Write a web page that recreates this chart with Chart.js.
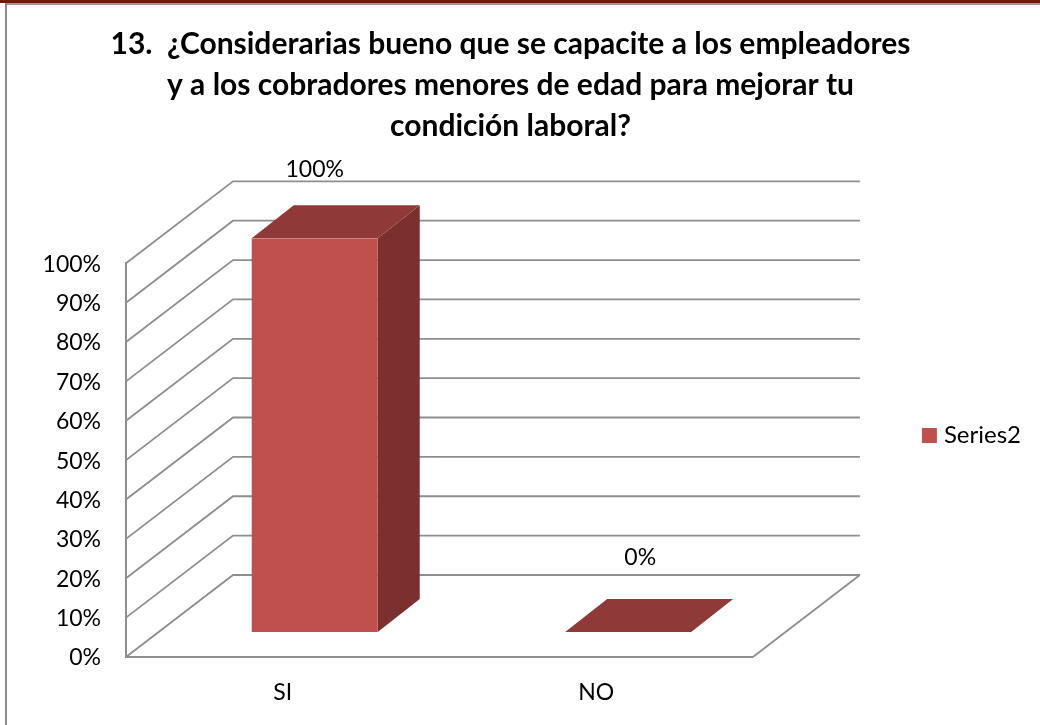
<!DOCTYPE html>
<html>
<head>
<meta charset="utf-8">
<title>Pregunta 13</title>
<script src="https://cdn.jsdelivr.net/npm/chart.js@4"></script>
<style>
  html, body { margin: 0; padding: 0; background: #fff; }
  #wrap { position: relative; width: 1040px; height: 725px; overflow: hidden; }
  #band { position: absolute; left: 0; top: 0; width: 1040px; height: 3px; background: #6f1a07; }
  #frameTop { position: absolute; left: 5px; top: 3px; width: 1035px; height: 2px; background: #999; }
  #frameLeft { position: absolute; left: 5px; top: 3px; width: 2px; height: 722px; background: #8c8c8c; }
  canvas { position: absolute; left: 0; top: 0; }
</style>
</head>
<body>
<div id="wrap">
  <canvas id="chart" width="1040" height="725"></canvas>
  <div id="band"></div>
  <div id="frameTop"></div>
  <div id="frameLeft"></div>
</div>
<script>
const titleLines = [
  "13.  ¿Considerarias bueno que se capacite a los empleadores",
  "y a los cobradores menores de edad para mejorar tu",
  "condición laboral?"
];
const categories = ["SI", "NO"];
const seriesName = "Series2";
const seriesValues = [100, 0];

const FRONT = "#c0504d";
const TOP = "#8f3a38";
const SIDE = "#7b302e";
const GRID = "#8e8e8e";
const FONT = "Lato, 'Open Sans', sans-serif";

// fake 3D: depth of the box, and how far the bars sit back from the front plane
const wall = { dx: 107, dy: 82 };
const barShift = { dx: 32, dy: 25 };
const barDepth = { dx: 42, dy: 33 };
const labelGap = 37;
const labelNudge = [{ x: 0, y: 1 }, { x: 12, y: -4 }];
const legendMove = { x: 10, y: 73 };

const line = (ctx, pts) => {
  ctx.beginPath();
  pts.forEach((p, i) => i ? ctx.lineTo(p[0], p[1]) : ctx.moveTo(p[0], p[1]));
  ctx.stroke();
};

const face = (ctx, pts, color) => {
  ctx.beginPath();
  pts.forEach((p, i) => i ? ctx.lineTo(p[0], p[1]) : ctx.moveTo(p[0], p[1]));
  ctx.closePath();
  ctx.fillStyle = color;
  ctx.fill();
};

const fake3d = {
  id: "fake3d",
  afterLayout(chart) {
    // legend sits above the middle of the page in the original
    const legend = chart.legend;
    legend.left += legendMove.x;
    legend.right += legendMove.x;
    legend.top += legendMove.y;
    legend.bottom += legendMove.y;
  },
  beforeDatasetsDraw(chart) {
    const { ctx, scales: { y } } = chart;
    const area = chart.chartArea;
    ctx.save();
    ctx.strokeStyle = GRID;
    ctx.lineWidth = 1.8;
    y.ticks.forEach(t => {
      const py = y.getPixelForValue(t.value);
      line(ctx, [[area.left, py], [area.left + wall.dx, py - wall.dy], [area.right + wall.dx, py - wall.dy]]);
    });
    line(ctx, [[area.right, area.bottom], [area.right + wall.dx, area.bottom - wall.dy]]);

    chart.getDatasetMeta(0).data.forEach(bar => {
      const l = bar.x - bar.width / 2 + barShift.dx;
      const r = bar.x + bar.width / 2 + barShift.dx;
      const t = bar.y - barShift.dy;
      const b = bar.base - barShift.dy;
      if (b > t) {
        face(ctx, [[r, t], [r + barDepth.dx, t - barDepth.dy], [r + barDepth.dx, b - barDepth.dy], [r, b]], SIDE);
      }
      face(ctx, [[l, t], [r, t], [r + barDepth.dx, t - barDepth.dy], [l + barDepth.dx, t - barDepth.dy]], TOP);
    });
    ctx.restore();
    // native bars get drawn as the front face, moved back onto the floor
    ctx.save();
    ctx.translate(barShift.dx, -barShift.dy);
  },
  afterDatasetsDraw(chart) {
    const { ctx } = chart;
    ctx.restore();
    ctx.save();
    ctx.fillStyle = "#000";
    ctx.font = "23px " + FONT;
    ctx.textAlign = "center";
    ctx.textBaseline = "middle";
    chart.getDatasetMeta(0).data.forEach((bar, i) => {
      ctx.fillText(
        seriesValues[i] + "%",
        bar.x + barShift.dx + labelNudge[i].x,
        bar.y - barShift.dy - barDepth.dy - labelGap + labelNudge[i].y
      );
    });
    ctx.restore();
  }
};

new Chart(document.getElementById("chart"), {
  type: "bar",
  plugins: [fake3d],
  data: {
    labels: categories,
    datasets: [{
      label: seriesName,
      data: seriesValues,
      backgroundColor: FRONT,
      borderWidth: 0,
      categoryPercentage: 1,
      barPercentage: 0.402
    }]
  },
  options: {
    responsive: false,
    animation: false,
    layout: { padding: { right: 19 } },
    scales: {
      x: {
        grid: { display: false },
        border: { display: true, color: GRID, width: 2 },
        ticks: { color: "#000", padding: 14, font: { family: FONT, size: 23 } },
        afterFit(s) { s.height = 68; }
      },
      y: {
        min: 0,
        max: 100,
        grid: { display: false },
        border: { display: true, color: GRID, width: 2 },
        ticks: {
          stepSize: 10,
          color: "#000",
          padding: 17,
          labelOffset: 1,
          font: { family: FONT, size: 23 },
          callback: v => v + "%"
        },
        afterFit(s) { s.width = 126; }
      },
      // empty axis, just keeps the room the back wall and legend gap need
      spacer: {
        position: "right",
        grid: { display: false },
        border: { display: false },
        ticks: { display: false },
        afterFit(s) { s.width = 157; }
      }
    },
    plugins: {
      title: {
        display: true,
        text: titleLines,
        color: "#000",
        font: { family: FONT, size: 30, weight: "bold", lineHeight: 1.37 },
        padding: { top: 24, bottom: 116 }
      },
      legend: {
        position: "right",
        labels: {
          color: "#000",
          // small box with a thick stroke, the text gap follows the font size otherwise
          boxWidth: 5,
          boxHeight: 5,
          padding: 7,
          font: { family: FONT, size: 24 },
          generateLabels: chart => Chart.defaults.plugins.legend.labels.generateLabels(chart)
            .map(item => ({ ...item, strokeStyle: FRONT, lineWidth: 10 }))
        }
      },
      tooltip: { enabled: false }
    }
  }
});
</script>
</body>
</html>
